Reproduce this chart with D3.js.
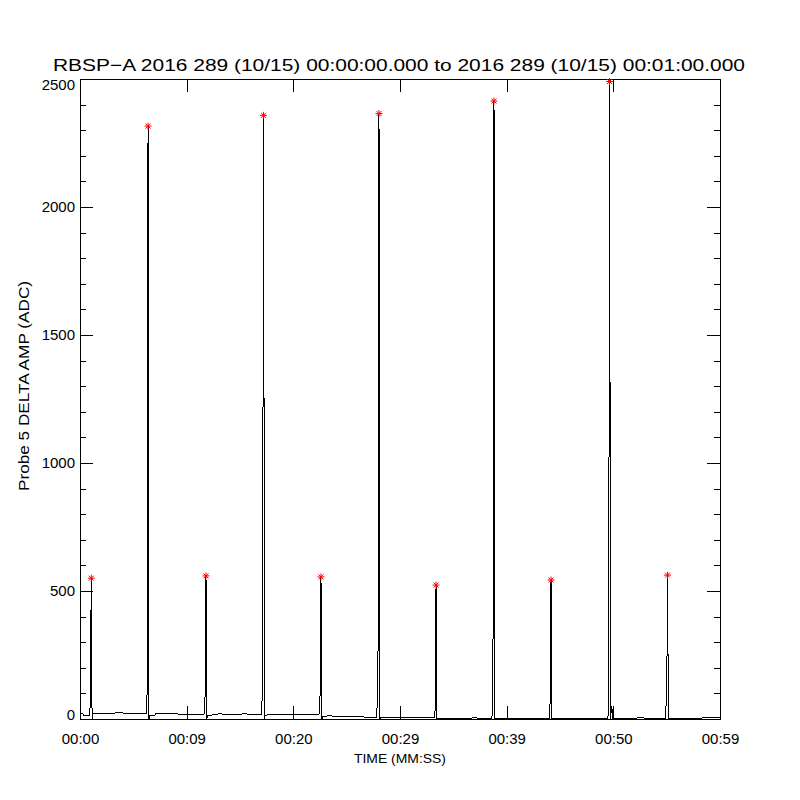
<!DOCTYPE html>
<html>
<head>
<meta charset="utf-8">
<title>RBSP-A Probe 5 delta amp</title>
<script src="https://cdn.jsdelivr.net/npm/d3@7"></script>
<style>
    body { margin: 0; background: #ffffff; }
    #chart-area { width: 800px; height: 800px; }
    text { font-family: "Liberation Sans", Arial, sans-serif; fill: #000000; }
</style>
</head>
<body>
<div id="chart-area"></div>
<script>

// sample times (seconds after 00:00:00) and probe 5 delta amplitude (ADC)
let timeSec = [
    0.00, 0.28, 0.30, 0.85,
    0.95, 1.01, 1.06, 1.09, 1.14, 1.22,
    2.00, 2.30, 2.80, 3.90, 4.20, 5.50, 6.20,
    6.28, 6.33, 6.38, 6.41, 6.46, 6.55,
    7.00, 7.10, 8.00, 8.40, 10.00, 11.60,
    11.71, 11.76, 11.81, 11.84, 11.89, 11.98,
    12.60, 13.00, 14.40, 15.50, 16.20, 17.00,
    17.10, 17.15, 17.20, 17.23, 17.28, 17.37,
    18.00, 19.50, 20.50, 21.50, 22.40,
    22.49, 22.54, 22.59, 22.62, 22.67, 22.76,
    23.20, 24.50, 25.00, 26.50, 27.80,
    27.93, 27.98, 28.03, 28.06, 28.11, 28.20,
    29.00, 30.00, 31.50, 33.20,
    33.28, 33.33, 33.38, 33.41, 33.46, 33.55,
    35.00, 37.00, 38.60,
    38.71, 38.76, 38.81, 38.84, 38.89, 38.98,
    40.00, 42.00, 44.00,
    44.06, 44.11, 44.16, 44.19, 44.24, 44.33,
    45.00, 46.00, 47.50, 49.45,
    49.54, 49.59, 49.64, 49.67, 49.72, 49.85, 49.95,
    51.00, 52.00, 52.50, 53.00, 54.90,
    54.98, 55.03, 55.08, 55.11, 55.16, 55.25,
    56.00, 57.00, 58.00, 59.00, 60.00
];

let deltaAmp = [
    22, 22, 15, 15,
    45, 316, 550, 152, 0, 22,
    23, 21, 22, 25, 22, 21, 21,
    30, 1258, 2316, 2188, 0, 12,
    13, 22, 22, 20, 19, 17,
    30, 300, 559, 420, 0, 15,
    16, 20, 18, 20, 18, 18,
    101, 992, 2358, 2153, 0, 15,
    18, 17, 19, 18, 16,
    40, 270, 555, 400, 0, 10,
    12, 11, 8, 8, 6,
    109, 900, 2365, 1300, 0, 5,
    4, 5, 4, 4,
    20, 290, 523, 200, 0, 3,
    3, 4, 3,
    40, 1344, 2414, 2066, 0, 3,
    2, 3, 2,
    30, 370, 543, 300, 0, 2,
    3, 2, 3, 2,
    20, 836, 2490, 2074, 0, 50, 3,
    3, 2, 6, 3, 3,
    100, 230, 562, 380, 0, 3,
    3, 2, 3, 6, 7
];

// peak markers (red asterisks)
let peakTimes = [1.06, 6.38, 11.81, 17.20, 22.59, 28.03, 33.38, 38.81, 44.16, 49.64, 55.08];
let peakValues = [550, 2316, 559, 2358, 555, 2365, 523, 2414, 543, 2490, 562];

// axis ticks
let xTickValues = [0, 10, 20, 30, 40, 50, 60];
let xTickLabels = ["00:00", "00:09", "00:20", "00:29", "00:39", "00:50", "00:59"];
let yTickValues = [0, 500, 1000, 1500, 2000, 2500];
let yTickLabels = ["0", "500", "1000", "1500", "2000", "2500"];

let chartTitle = "RBSP\u2212A 2016 289 (10/15) 00:00:00.000 to 2016 289 (10/15) 00:01:00.000";
let xTitle = "TIME (MM:SS)";
let yTitle = "Probe 5 DELTA AMP (ADC)";


class SpikeVis {

    constructor(_parentElement) {
        this.parentElement = _parentElement;
        this.initVis();
    }

    initVis() {
        let vis = this;

        vis.margin = {top: 79, right: 80, bottom: 81, left: 80};
        vis.width = 800 - vis.margin.left - vis.margin.right;
        vis.height = 800 - vis.margin.top - vis.margin.bottom;

        vis.root = d3.select(`#${vis.parentElement}`)
            .append("svg")
            .attr("width", 800)
            .attr("height", 800);

        vis.root.append("rect")
            .attr("width", 800)
            .attr("height", 800)
            .attr("fill", "#ffffff");

        vis.svg = vis.root.append("g")
            .attr("transform", `translate(${vis.margin.left}, ${vis.margin.top})`);

        vis.x = d3.scaleLinear().domain([0, 60]).range([0, vis.width]);
        vis.y = d3.scaleLinear().domain([0, 2500]).range([vis.height, 0]);

        // titles
        vis.root.append("text")
            .attr("x", 399)
            .attr("y", 71)
            .attr("text-anchor", "middle")
            .attr("font-size", 17)
            .attr("textLength", 692)
            .attr("lengthAdjust", "spacingAndGlyphs")
            .text(chartTitle);

        vis.root.append("text")
            .attr("x", 400)
            .attr("y", 763)
            .attr("text-anchor", "middle")
            .attr("font-size", 13)
            .attr("textLength", 92)
            .attr("lengthAdjust", "spacingAndGlyphs")
            .text(xTitle);

        vis.root.append("text")
            .attr("transform", "translate(28.5, 386) rotate(-90)")
            .attr("text-anchor", "middle")
            .attr("font-size", 14)
            .attr("textLength", 210)
            .attr("lengthAdjust", "spacingAndGlyphs")
            .text(yTitle);

        vis.axisGroup = vis.svg.append("g").attr("class", "axes");
        vis.lineGroup = vis.svg.append("g").attr("class", "trace");
        vis.markGroup = vis.svg.append("g").attr("class", "peaks");

        vis.wrangleData();
    }

    wrangleData() {
        let vis = this;

        vis.displayData = timeSec.map((t, i) => ({t: t, v: deltaAmp[i]}));
        vis.peakData = peakTimes.map((t, i) => ({t: t, v: peakValues[i]}));

        vis.updateVis();
    }

    updateVis() {
        let vis = this;
        let minorTicks = d3.range(0, 2501, 100).filter(d => d % 500 !== 0);

        // bottom axis with labels, ticks pointing in
        let bottom = vis.axisGroup.append("g")
            .attr("transform", `translate(0, ${vis.height})`)
            .call(d3.axisBottom(vis.x)
                .tickValues(xTickValues)
                .tickSize(-13)
                .tickSizeOuter(0)
                .tickPadding(14)
                .tickFormat((d, i) => xTickLabels[i]));

        vis.axisGroup.append("g")
            .call(d3.axisTop(vis.x)
                .tickValues(xTickValues)
                .tickSize(-13)
                .tickSizeOuter(0)
                .tickFormat(""));

        let left = vis.axisGroup.append("g")
            .call(d3.axisLeft(vis.y)
                .tickValues(yTickValues)
                .tickSize(-13)
                .tickSizeOuter(0)
                .tickPadding(5)
                .tickFormat((d, i) => yTickLabels[i]));

        vis.axisGroup.append("g")
            .call(d3.axisLeft(vis.y).tickValues(minorTicks).tickSize(-6).tickSizeOuter(0).tickFormat(""));

        vis.axisGroup.append("g")
            .attr("transform", `translate(${vis.width}, 0)`)
            .call(d3.axisRight(vis.y).tickValues(yTickValues).tickSize(-13).tickSizeOuter(0).tickFormat(""));

        vis.axisGroup.append("g")
            .attr("transform", `translate(${vis.width}, 0)`)
            .call(d3.axisRight(vis.y).tickValues(minorTicks).tickSize(-6).tickSizeOuter(0).tickFormat(""));

        vis.axisGroup.selectAll(".domain").remove();
        vis.axisGroup.selectAll(".tick line")
            .attr("stroke", "#000")
            .attr("shape-rendering", "crispEdges");

        bottom.selectAll("text")
            .attr("font-size", 15)
            .attr("font-family", "Liberation Sans, Arial, sans-serif")
            .attr("fill", "#000");

        // end labels sit inside the frame like the original
        left.selectAll("text")
            .attr("font-size", 15)
            .attr("font-family", "Liberation Sans, Arial, sans-serif")
            .attr("fill", "#000")
            .attr("y", d => d === 0 ? -4.5 : (d === 2500 ? 6 : 0));

        vis.axisGroup.append("rect")
            .attr("x", 0.5)
            .attr("y", 0.5)
            .attr("width", vis.width)
            .attr("height", vis.height)
            .attr("fill", "none")
            .attr("stroke", "#000")
            .attr("shape-rendering", "crispEdges");

        // data trace
        let line = d3.line()
            .x(d => vis.x(d.t))
            .y(d => vis.y(d.v));

        vis.lineGroup.append("path")
            .datum(vis.displayData)
            .attr("d", line)
            .attr("fill", "none")
            .attr("stroke", "#000")
            .attr("stroke-width", 1)
            .attr("shape-rendering", "crispEdges");

        // asterisks on the peaks
        vis.markGroup.selectAll("path")
            .data(vis.peakData)
            .enter()
            .append("path")
            .attr("transform", d => `translate(${vis.x(d.t)}, ${vis.y(d.v)})`)
            .attr("d", "M-3.5,0H3.5M0,-3.5V3.5M-2.5,-2.5L2.5,2.5M-2.5,2.5L2.5,-2.5")
            .attr("fill", "none")
            .attr("stroke", "#ff0000")
            .attr("stroke-width", 1);
    }
}

let spikeVis = new SpikeVis("chart-area");

</script>
</body>
</html>
